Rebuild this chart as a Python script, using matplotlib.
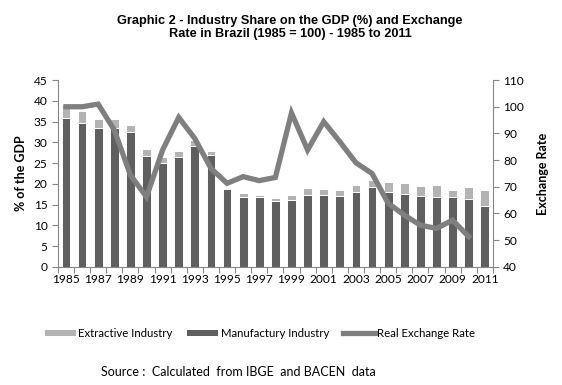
import matplotlib.pyplot as plt
import numpy as np

years = list(range(1985, 2012))
manufactury = [35.8, 34.6, 33.4, 33.5, 32.4, 26.6, 24.9, 26.4, 29.1, 27.0,
               18.7, 16.8, 16.8, 15.8, 16.2, 17.3, 17.3, 17.0, 18.0, 19.2,
               18.1, 17.5, 17.0, 16.8, 16.8, 16.3, 14.6]
extractive = [3.2, 2.9, 2.2, 2.0, 1.8, 1.7, 1.5, 1.6, 1.4, 1.0,
              0.4, 0.9, 0.6, 0.8, 1.0, 1.6, 1.4, 1.5, 1.6, 1.6,
              2.4, 2.8, 2.4, 3.0, 1.6, 2.9, 4.0]
exchange = [100, 100, 101, 91.3, 74.4, 66.2, 83.8, 96, 88.1, 76.9,
            71.3, 73.8, 72.3, 73.5, 97.7, 83.8, 94.4, 86.9, 79, 75,
            63.8, 59.4, 55.6, 54.4, 57.5, 51.3]

dark = '#5f5f5f'
light = '#b3b3b3'
line_c = '#7f7f7f'
axis_c = '#868686'
font = 'Lato'

fig = plt.figure(figsize=(5.62, 3.85), dpi=100)
ax = fig.add_axes([0.103, 0.307, 0.774, 0.485])
ax2 = ax.twinx()

x = np.arange(len(years))
ax.bar(x, manufactury, width=0.55, color=dark, edgecolor='white', linewidth=0.7,
       label='Manufactury Industry', zorder=2)
ax.bar(x, extractive, width=0.55, bottom=manufactury, color=light, edgecolor='white',
       linewidth=0.7, label='Extractive Industry', zorder=2)
ax2.plot(x[:len(exchange)], exchange, color=line_c, lw=3.8, solid_joinstyle='miter',
         label='Real Exchange Rate')

ax.set_xlim(-0.5, len(years) - 0.5)
ax.set_ylim(0, 45)
ax.set_yticks(np.arange(0, 46, 5))
ax2.set_ylim(40, 110)
ax2.set_yticks(np.arange(40, 111, 10))

# ticks between categories, labels every other year
ax.set_xticks(np.arange(-0.5, len(years), 1))
ax.set_xticklabels([])
ax.set_xticks(x[::2], minor=True)
ax.set_xticklabels([str(y) for y in years[::2]], minor=True)
ax.tick_params(axis='x', which='minor', length=0, pad=5)
ax.tick_params(axis='x', which='major', length=4, color=axis_c, direction='out')
ax.tick_params(axis='y', length=4, color=axis_c)
ax2.tick_params(axis='y', length=4, color=axis_c)

for a in (ax, ax2):
    a.spines['top'].set_visible(False)
    for s in ('left', 'right', 'bottom'):
        a.spines[s].set_color(axis_c)
    for lab in a.get_xticklabels(which='both') + a.get_yticklabels():
        lab.set_fontfamily(font)
        lab.set_fontsize(8.6)
ax.spines['right'].set_visible(False)
ax2.spines['left'].set_visible(False)
ax2.spines['bottom'].set_visible(False)

ax.set_ylabel('% of the GDP', family=font, fontweight='bold', fontsize=9, labelpad=5)
ax2.set_ylabel('Exchange Rate', family=font, fontweight='bold', fontsize=9, labelpad=9)

fig.text(0.516, 0.962, 'Graphic 2 - Industry Share on the GDP (%) and Exchange\nRate in Brazil (1985 = 100) - 1985 to 2011',
         ha='center', va='top', family='Liberation Sans', fontweight='bold', fontsize=9.2,
         linespacing=1.12)

h1, l1 = ax.get_legend_handles_labels()
h2, l2 = ax2.get_legend_handles_labels()
handles = [h1[1], h1[0], h2[0]]
labels = [l1[1], l1[0], l2[0]]
fig.legend(handles, labels, loc='center', bbox_to_anchor=(0.462, 0.135), ncol=3,
           frameon=False, prop={'family': font, 'size': 8.2}, handlelength=2.8,
           handleheight=0.45, handletextpad=0.2, columnspacing=1.2)

fig.text(0.425, 0.033, 'Source :  Calculated  from IBGE  and BACEN  data',
         ha='center', va='center', family=font, fontsize=9)

fig.savefig('out.png', dpi=100)
